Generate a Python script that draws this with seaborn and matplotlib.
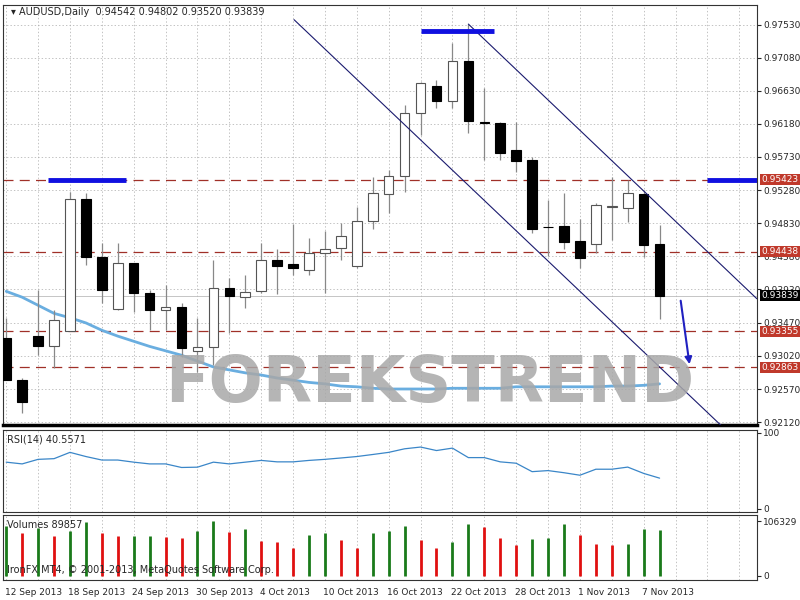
import matplotlib
matplotlib.use("Agg")
import matplotlib.pyplot as plt
import seaborn as sns
import numpy as np
import pandas as pd

sns.set_style("white")
plt.rcParams['font.family'] = ['DejaVu Sans']

opens  = [0.9326,0.9269,0.9329,0.9315,0.9336,0.9516,0.9437,0.9366,0.9429,0.9388,0.9365,0.9369,0.9309,0.9314,0.9395,0.9382,0.9390,0.9433,0.9427,0.9419,0.9442,0.9449,0.9425,0.9486,0.9523,0.9547,0.9633,0.9669,0.9649,0.9704,0.9621,0.9619,0.9583,0.9569,0.9478,0.9479,0.9459,0.9455,0.9505,0.9504,0.9523,0.94542]
highs  = [0.9354,0.9272,0.9392,0.9365,0.9525,0.9524,0.9456,0.9456,0.9429,0.9392,0.9398,0.9374,0.9354,0.9433,0.9408,0.9412,0.9456,0.9448,0.9482,0.9463,0.9472,0.9483,0.9505,0.9546,0.9555,0.9644,0.9675,0.9678,0.9728,0.9754,0.9667,0.9621,0.9621,0.9573,0.9514,0.9524,0.9489,0.9510,0.9546,0.9542,0.9528,0.94802]
lows   = [0.9269,0.9224,0.9303,0.9286,0.9336,0.9426,0.9374,0.9365,0.9362,0.9337,0.9337,0.9300,0.9280,0.9290,0.9333,0.9367,0.9388,0.9386,0.9412,0.9412,0.9388,0.9433,0.9422,0.9475,0.9497,0.9525,0.9603,0.9640,0.9640,0.9606,0.9569,0.9569,0.9553,0.9470,0.9438,0.9448,0.9422,0.9442,0.9460,0.9485,0.9437,0.93520]
closes = [0.9269,0.9239,0.9315,0.9351,0.9516,0.9437,0.9392,0.9429,0.9388,0.9365,0.9369,0.9313,0.9314,0.9395,0.9384,0.9389,0.9433,0.9425,0.9422,0.9442,0.9448,0.9465,0.9486,0.9524,0.9547,0.9633,0.9674,0.9649,0.9704,0.9622,0.9619,0.9579,0.9568,0.9475,0.9477,0.9457,0.9435,0.9508,0.9506,0.9524,0.9453,0.93839]
ma_values = [0.9390,0.9382,0.9371,0.9360,0.9354,0.9347,0.9337,0.9329,0.9322,0.9315,0.9309,0.9303,0.9295,0.9287,0.9283,0.9279,0.9276,0.9272,0.9269,0.9266,0.9264,0.9261,0.9260,0.9258,0.9257,0.9257,0.9257,0.9257,0.9258,0.9258,0.9258,0.9258,0.9260,0.9260,0.9260,0.9260,0.9260,0.9260,0.9261,0.9261,0.9262,0.9264]
rsi_values = [61.6,59.3,65.3,66.2,74.5,69.0,64.4,64.4,61.6,59.3,59.3,54.6,55.0,61.6,59.3,61.6,63.9,62.0,62.0,63.9,65.3,67.1,69.0,71.7,74.5,79.2,81.5,76.9,80.1,67.6,67.6,62.0,60.2,49.1,50.5,47.7,44.4,52.3,52.3,55.1,46.8,40.56]
volumes = [97600,84100,92200,77400,86800,104300,82800,77400,77400,77400,76000,74000,86800,106329,85500,90900,67300,65300,53800,78700,82800,69300,53800,82800,86800,97600,69300,53800,65300,101000,95600,74000,59200,70700,73400,101000,79400,62600,59200,62600,90900,89857]
vol_up = [1,0,1,0,1,1,0,0,1,1,0,0,1,1,0,1,0,0,0,1,1,0,0,1,1,1,0,0,1,1,0,0,0,1,1,1,0,0,0,1,1,1]
date_labels = ["12 Sep 2013","18 Sep 2013","24 Sep 2013","30 Sep 2013","4 Oct 2013","10 Oct 2013","16 Oct 2013","22 Oct 2013","28 Oct 2013","1 Nov 2013","7 Nov 2013"]
date_idx = [0,4,8,12,16,20,24,28,32,36,40]
price_ticks = [0.97530,0.97080,0.96630,0.96180,0.95730,0.95280,0.94830,0.94380,0.93930,0.93470,0.93020,0.92570,0.92120]
levels = [0.95423,0.94438,0.93355,0.92863]
last_price = 0.93839
lower_chan = [(18.06,0.9760),(45.75,0.9189)]
upper_chan = [(29.0,0.9754),(47.1,0.9380)]
blue_segs = [((2.6,7.5),0.95423),((44.0,47.2),0.95423),((26.0,30.6),0.9744)]
arrow_pts = [(42.3,0.9381),(42.9,0.9287)]

n = len(opens)
idx = np.arange(n)
df = pd.DataFrame({"i": idx, "o": opens, "h": highs, "l": lows, "c": closes,
                   "ma": ma_values, "rsi": rsi_values, "vol": volumes, "up": vol_up})

fig = plt.figure(figsize=(8, 6), dpi=100)
fig.patch.set_facecolor("white")
xl = (-0.19, 47.1)
ax = fig.add_axes([0.004, 0.2917, 0.942, 0.70])
ax_r = fig.add_axes([0.004, 0.1467, 0.942, 0.1367])
ax_v = fig.add_axes([0.004, 0.0333, 0.942, 0.1083])

for a in (ax, ax_r, ax_v):
    a.set_facecolor("white")
    a.set_xlim(*xl)
    a.yaxis.tick_right()
    a.tick_params(axis='y', labelsize=6.5, length=3, pad=1.5)
    a.tick_params(axis='x', length=0)
    for s in a.spines.values():
        s.set_color("#333333"); s.set_linewidth(0.8)
    a.set_xticks(np.arange(0, 48, 2))
    a.set_xticklabels([])
    a.grid(True, axis='x', color="#aaaaaa", linestyle=(0, (2, 3)), linewidth=0.5)
ax.spines['bottom'].set_linewidth(2.5)
ax.spines['bottom'].set_color('black')

ax.set_ylim(0.9208, 0.9780)
ax.set_yticks(price_ticks)
ax.set_yticklabels([f"{p:.5f}" for p in price_ticks])
ax.grid(True, axis='y', color="#aaaaaa", linestyle=(0, (2, 3)), linewidth=0.5)
for lv in levels:
    ax.axhline(lv, color="#a03028", linestyle=(0, (8, 5)), linewidth=0.9, zorder=1)
ax.axhline(last_price, color="#bbbbbb", linewidth=0.6, zorder=1)
sns.lineplot(data=df, x="i", y="ma", ax=ax, color="#6aaee0", linewidth=2, zorder=2)
ax.set_xlabel(""); ax.set_ylabel("")
for _, r in df.iterrows():
    ax.vlines(r.i, r.l, r.h, color="#888888", linewidth=0.9, zorder=3)
    bull = r.c >= r.o
    lo, hi = min(r.o, r.c), max(r.o, r.c)
    ax.bar(r.i, max(hi - lo, 0.00006), bottom=lo, width=0.6,
           color="white" if bull else "black", edgecolor="#555555" if bull else "black",
           linewidth=0.8, zorder=4)
for (x0, y0), (x1, y1) in [lower_chan, upper_chan]:
    ax.plot([x0, x1], [y0, y1], color="#1a1a6e", linewidth=0.8, zorder=5)
for (x0, x1), y in blue_segs:
    ax.plot([x0, x1], [y, y], color="#1010e0", linewidth=3.5, solid_capstyle='butt', zorder=6)
ax.annotate("", xy=arrow_pts[1], xytext=arrow_pts[0],
            arrowprops=dict(arrowstyle="-|>", color="#2020c0", lw=1.5, mutation_scale=10), zorder=6)
ax.text(26.6, 0.9264, "FOREKSTREND", fontsize=46, fontweight='bold', color="#a8a8a8",
        alpha=0.85, ha='center', va='center', zorder=7)
ax.text(0.01, 0.995, "▾ AUDUSD,Daily  0.94542 0.94802 0.93520 0.93839", transform=ax.transAxes,
        fontsize=7, va='top', ha='left')
for lv in levels:
    ax.text(1.006, lv, f"{lv:.5f}", transform=ax.get_yaxis_transform(), fontsize=6.5, color="white",
            va='center', ha='left', clip_on=False, zorder=10,
            bbox=dict(boxstyle="square,pad=0.12", fc="#c0392b", ec="none"))
ax.text(1.006, last_price, f"{last_price:.5f}", transform=ax.get_yaxis_transform(), fontsize=6.5,
        color="white", va='center', ha='left', clip_on=False, zorder=10,
        bbox=dict(boxstyle="square,pad=0.12", fc="black", ec="none"))

sns.lineplot(data=df, x="i", y="rsi", ax=ax_r, color="#3a86c8", linewidth=0.9)
ax_r.set_ylim(-4, 104)
ax_r.set_yticks([0, 100]); ax_r.set_yticklabels(["0", "100"])
ax_r.set_xlabel(""); ax_r.set_ylabel("")
ax_r.text(0.005, 0.95, "RSI(14) 40.5571", transform=ax_r.transAxes, fontsize=7, va='top')

ax_v.set_ylim(-8000, 118000)
cols = ["#1a7a1a" if u else "#e01010" for u in vol_up]
ax_v.vlines(idx, 0, volumes, colors=cols, linewidth=2)
ax_v.set_yticks([0, 106329]); ax_v.set_yticklabels(["0", "106329"])
ax_v.text(0.005, 0.92, "Volumes 89857", transform=ax_v.transAxes, fontsize=7, va='top')
ax_v.text(0.005, 0.08, "IronFX MT4, © 2001-2013, MetaQuotes Software Corp.", transform=ax_v.transAxes,
          fontsize=7, va='bottom')
for i, lab in zip(date_idx, date_labels):
    fig.text(ax_v.transData.transform((i, 0))[0] / 800 - 0.002, 0.012, lab, fontsize=6.5, ha='left', va='center')

fig.savefig("out.png", dpi=100, facecolor="white")
